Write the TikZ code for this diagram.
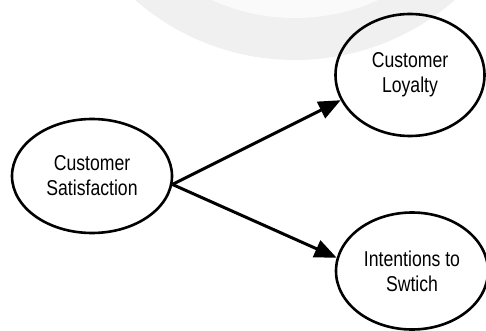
\documentclass[tikz,border=0pt]{standalone}
\usepackage{fontspec}
\setmainfont{Liberation Sans}[FakeStretch=0.82]
\usetikzlibrary{shapes.geometric,arrows.meta}

\begin{document}
\begin{tikzpicture}[x=1pt,y=-1pt,
        construct/.style={ellipse,draw,line width=2.6pt,align=center,
            font=\fontsize{21.5}{25}\selectfont,inner sep=0pt},
        link/.style={line width=3pt,-{Triangle[length=22pt,width=18pt]}}]
    \useasboundingbox (0,0) rectangle (486,331);
    % faint seal behind the top
    \begin{scope}
        \clip (0,0) rectangle (486,331);
        \fill[gray!12] (295,-183) circle (243pt);
        \fill[gray!4] (295,-183) circle (201pt);
    \end{scope}
    \node[construct,minimum width=160pt,minimum height=114pt] (sat) at (92,176) {Customer\\Satisfaction};
    \node[construct,minimum width=149pt,minimum height=122pt] (loy) at (410,75) {Customer\\Loyalty};
    \node[construct,minimum width=152pt,minimum height=117pt] (swi) at (412,271) {Intentions to\\Swtich};
    \draw[link] (sat.354) -- (loy.200);
    \draw[link] (sat.354) -- (swi.170);
\end{tikzpicture}
\end{document}
